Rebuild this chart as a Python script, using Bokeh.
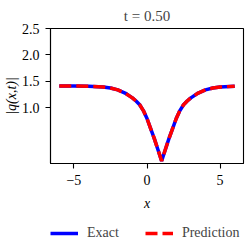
import re
from bokeh.plotting import figure
from bokeh.layouts import column
from bokeh.models import Range1d, FixedTicker, Legend, LegendItem
from bokeh.embed import file_html
from bokeh.resources import INLINE

# data
x_vals = [-6, -5, -4, -3, -2.5, -2, -1.5, -1, -0.75, -0.5, -0.25, 0, 0.25, 0.5, 0.75,
          1.0, 1.25, 1.5, 1.75, 2.0, 2.25, 2.5, 2.75, 3.0, 3.5, 4.0, 4.5, 5, 6]
q_exact = [1.414, 1.413, 1.41, 1.395, 1.375, 1.34, 1.28, 1.19, 1.13, 1.06, 0.95, 0.80,
           0.61, 0.42, 0.21, 0.0, 0.21, 0.42, 0.61, 0.80, 0.95, 1.06, 1.13, 1.19, 1.28,
           1.34, 1.375, 1.395, 1.41]
q_pred = [1.414, 1.413, 1.41, 1.395, 1.375, 1.34, 1.28, 1.19, 1.13, 1.06, 0.95, 0.80,
          0.61, 0.42, 0.21, 0.0, 0.21, 0.42, 0.61, 0.80, 0.95, 1.06, 1.13, 1.19, 1.28,
          1.34, 1.375, 1.395, 1.41]
x_ticks = [-5, 0, 5]
x_tick_labels = {-5: "\u22125", 0: "0", 5: "5"}
y_ticks = [1.0, 1.5, 2.0, 2.5]
y_tick_labels = {1.0: "1.0", 1.5: "1.5", 2.0: "2.0", 2.5: "2.5"}
title_text = "t = 0.50"
series_names = ["Exact", "Prediction"]

FONT = "Liberation Serif"
BLUE = "#0000ff"
RED = "#ff0000"

p = figure(width=246, height=218, x_range=Range1d(-6.6, 6.6), y_range=Range1d(-0.05, 2.5),
           output_backend="svg", toolbar_location=None,
           min_border_left=49, min_border_right=3, min_border_top=24, min_border_bottom=55)

p.title.text = title_text
p.title.align = "center"
p.title.text_font = FONT
p.title.text_font_size = "15px"
p.title.text_font_style = "normal"
p.title.standoff = 10

p.xgrid.visible = False
p.ygrid.visible = False
p.outline_line_color = "black"
p.outline_line_width = 1.1
p.background_fill_color = "white"
p.border_fill_color = "white"

for ax in (p.xaxis[0], p.yaxis[0]):
    ax.major_tick_in = 0
    ax.major_tick_out = 5
    ax.minor_tick_line_color = None
    ax.major_tick_line_width = 1.1
    ax.axis_line_width = 1.1
    ax.major_label_text_font = FONT
    ax.major_label_text_font_size = "14px"
    ax.major_label_text_color = "black"
    ax.axis_label_text_font = FONT
    ax.axis_label_text_font_size = "14px"
    ax.axis_label_text_font_style = "italic"
    ax.axis_label_text_color = "black"

p.xaxis.ticker = FixedTicker(ticks=x_ticks)
p.xaxis.major_label_overrides = x_tick_labels
p.yaxis.ticker = FixedTicker(ticks=y_ticks)
p.yaxis.major_label_overrides = y_tick_labels
p.xaxis.major_label_standoff = 6
p.yaxis.major_label_standoff = 6
p.xaxis.axis_label = "x"
p.yaxis.axis_label = "|q(x,t)|"
p.xaxis.axis_label_standoff = 8
p.yaxis.axis_label_standoff = 0

p.line(x_vals, q_exact, line_color=BLUE, line_width=3.5)
p.line(x_vals, q_pred, line_color=RED, line_width=3.5, line_dash="12 5")

# legend strip below the axes (its lines lie outside this strip's view range)
p2 = figure(width=246, height=27, x_range=Range1d(-6.6, 6.6), y_range=Range1d(10, 11),
            output_backend="svg", toolbar_location=None,
            min_border_left=0, min_border_right=0, min_border_top=0, min_border_bottom=0)
p2.axis.visible = False
p2.grid.visible = False
p2.outline_line_color = None
p2.background_fill_color = "white"
p2.border_fill_color = "white"
l_exact = p2.line(x_vals, q_exact, line_color=BLUE, line_width=3.5)
l_pred = p2.line(x_vals, q_pred, line_color=RED, line_width=3.5, line_dash="12 5")

legend = Legend(items=[LegendItem(label=series_names[0], renderers=[l_exact]),
                       LegendItem(label=series_names[1], renderers=[l_pred])],
                orientation="horizontal", location=(0, 4),
                border_line_color=None, background_fill_alpha=0,
                label_text_font=FONT, label_text_font_size="14px",
                glyph_width=28, glyph_height=14, label_standoff=9, spacing=26,
                padding=2, margin=0)
p2.add_layout(legend, "center")

lay = column(p, p2, spacing=0)
html = file_html(lay, INLINE)
html = re.sub(r"<body>", '<body style="margin:0;overflow:hidden">', html, count=1)
open("out.html", "w").write(html)
